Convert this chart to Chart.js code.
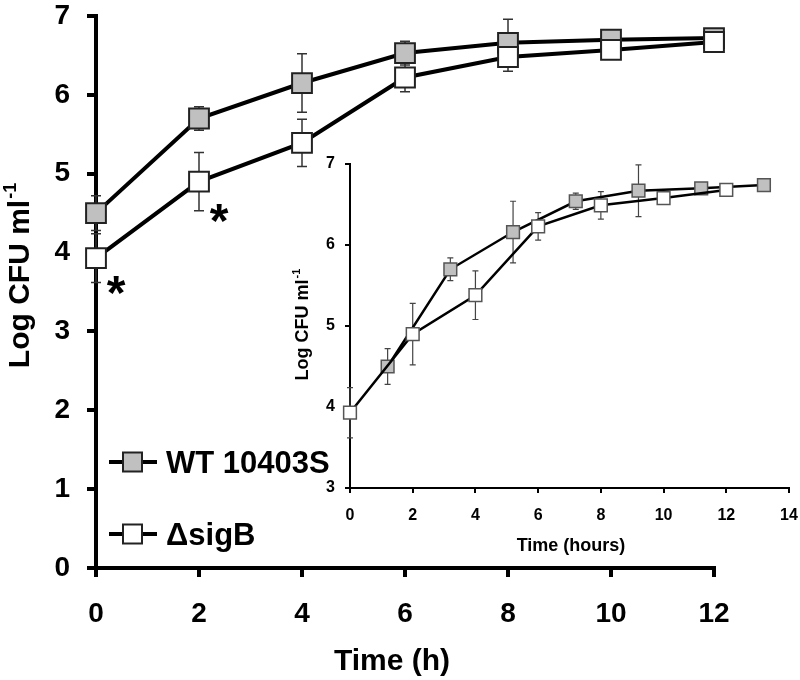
<!DOCTYPE html>
<html>
<head>
<meta charset="utf-8">
<script src="https://cdn.jsdelivr.net/npm/chart.js@4.4.1/dist/chart.umd.min.js"></script>
<style>
  html, body { margin: 0; padding: 0; background: #fff; }
  #wrap { position: relative; width: 800px; height: 680px; }
  #wrap canvas { position: absolute; left: 0; top: 0; }
</style>
</head>
<body>
<div id="wrap">
  <canvas id="mainChart" width="800" height="680"></canvas>
  <canvas id="insetChart" width="800" height="680"></canvas>
</div>
<script>
// --- Data: main panel (Log CFU/ml vs time, h) ---
const MAIN_TIMES   = [0, 2, 4, 6, 8, 10, 12];
const MAIN_WT      = [4.50, 5.70, 6.15, 6.53, 6.66, 6.70, 6.72];
const MAIN_WT_ERR  = [0.22, 0.15, 0.37, 0.15, 0.30, 0.05, 0.04];
const MAIN_SIGB    = [3.93, 4.90, 5.39, 6.22, 6.48, 6.57, 6.67];
const MAIN_SIGB_ERR = [0.31, 0.37, 0.30, 0.18, 0.18, 0.05, 0.04];
const SIG_TIMES    = [0, 2];   // points marked with *

// --- Data: inset panel ---
const INSET_WT_TIMES   = [1.2, 3.2, 5.2, 7.2, 9.2, 11.2, 13.2];
const INSET_WT         = [4.50, 5.70, 6.16, 6.54, 6.67, 6.70, 6.74];
const INSET_WT_ERR     = [0.22, 0.14, 0.38, 0.10, 0.32, 0.03, 0.03];
const INSET_SIGB_TIMES = [0, 2, 4, 6, 8, 10, 12];
const INSET_SIGB       = [3.93, 4.90, 5.38, 6.23, 6.49, 6.58, 6.68];
const INSET_SIGB_ERR   = [0.31, 0.38, 0.30, 0.17, 0.17, 0.03, 0.03];

const LABELS = ['WT 10403S', '\u0394sigB'];

const FONT = '"Liberation Sans", Arial, Helvetica, sans-serif';
const GRAY = '#c0c0c0';
Chart.defaults.font.family = FONT;
Chart.defaults.color = '#000';
Chart.defaults.animation = false;

const pts = (xs, ys) => xs.map((x, i) => ({ x, y: ys[i] }));

// fixed axis box, no extra label overhang padding
const fixBox = (w, h) => s => {
  if (w != null) s.width = w;
  if (h != null) s.height = h;
  s.paddingTop = s.paddingBottom = s.paddingLeft = s.paddingRight = 0;
};

// --- Plugins ---
const errorBars = {
  id: 'errorBars',
  beforeDatasetsDraw(chart, args, opts) {
    const { ctx, scales: { x, y } } = chart;
    ctx.save();
    ctx.strokeStyle = opts.color;
    ctx.lineWidth = opts.width;
    chart.data.datasets.forEach(ds => {
      if (!ds.errors) return;
      ds.data.forEach((p, i) => {
        const e = ds.errors[i];
        const px = x.getPixelForValue(p.x);
        const top = y.getPixelForValue(p.y + e), bot = y.getPixelForValue(p.y - e);
        ctx.beginPath();
        ctx.moveTo(px, top); ctx.lineTo(px, bot);
        ctx.moveTo(px - opts.cap, top); ctx.lineTo(px + opts.cap, top);
        ctx.moveTo(px - opts.cap, bot); ctx.lineTo(px + opts.cap, bot);
        ctx.stroke();
      });
    });
    ctx.restore();
  }
};

function drawText(ctx, t) {
  ctx.save();
  ctx.translate(t.x, t.y);
  if (t.rotate) ctx.rotate(t.rotate);
  ctx.fillStyle = '#000';
  ctx.textBaseline = 'alphabetic';
  ctx.textAlign = 'left';
  ctx.font = `bold ${t.size}px ${FONT}`;
  const w1 = ctx.measureText(t.text).width;
  let w2 = 0;
  const supSize = Math.round(t.size * 0.6);
  if (t.sup) {
    ctx.font = `bold ${supSize}px ${FONT}`;
    w2 = ctx.measureText(t.sup).width;
  }
  const x0 = -(w1 + w2) / 2;
  ctx.font = `bold ${t.size}px ${FONT}`;
  ctx.fillText(t.text, x0, 0);
  if (t.sup) {
    ctx.font = `bold ${supSize}px ${FONT}`;
    ctx.fillText(t.sup, x0 + w1 + 1, -t.size * 0.42);
  }
  ctx.restore();
}

const titles = {
  id: 'titles',
  afterDraw(chart, args, opts) {
    (opts.items || []).forEach(t => drawText(chart.ctx, t));
  }
};

const legendBox = {
  id: 'legendBox',
  afterDraw(chart, args, opts) {
    if (!opts.show) return;
    const ctx = chart.ctx;
    const items = chart.data.datasets.slice().sort((a, b) => b.order - a.order);
    ctx.save();
    items.forEach((ds, i) => {
      const cy = opts.top + i * opts.gap;
      ctx.strokeStyle = '#000';
      ctx.lineWidth = 4;
      ctx.beginPath();
      ctx.moveTo(opts.left, cy); ctx.lineTo(opts.left + 48, cy);
      ctx.stroke();
      ctx.fillStyle = ds.pointBackgroundColor;
      ctx.lineWidth = 2;
      ctx.strokeStyle = '#222';
      ctx.fillRect(opts.left + 14, cy - 9.5, 19, 19);
      ctx.strokeRect(opts.left + 14, cy - 9.5, 19, 19);
      ctx.fillStyle = '#000';
      ctx.font = `bold 31px ${FONT}`;
      ctx.textBaseline = 'alphabetic';
      ctx.fillText(ds.label, opts.left + 57, cy + 11);
    });
    ctx.restore();
  }
};

const stars = {
  id: 'stars',
  afterDatasetsDraw(chart, args, opts) {
    if (!opts.show) return;
    const { ctx, scales: { x, y } } = chart;
    ctx.save();
    ctx.fillStyle = '#000';
    ctx.font = `bold 48px ${FONT}`;
    ctx.textAlign = 'center';
    SIG_TIMES.forEach(t => {
      const i = MAIN_TIMES.indexOf(t);
      const cx = x.getPixelForValue(t) + 20;
      const cy = y.getPixelForValue(MAIN_SIGB[i] - MAIN_SIGB_ERR[i]);
      ctx.fillText('*', cx, cy + 26);
    });
    ctx.restore();
  }
};

// --- Main chart ---
new Chart(document.getElementById('mainChart'), {
  type: 'line',
  data: {
    datasets: [
      { label: LABELS[0], data: pts(MAIN_TIMES, MAIN_WT), errors: MAIN_WT_ERR, order: 1,
        borderColor: '#000', borderWidth: 4, pointStyle: 'rect', pointRadius: 14,
        pointBackgroundColor: GRAY, pointBorderColor: '#222', pointBorderWidth: 2, clip: false },
      { label: LABELS[1], data: pts(MAIN_TIMES, MAIN_SIGB), errors: MAIN_SIGB_ERR, order: 0,
        borderColor: '#000', borderWidth: 4, pointStyle: 'rect', pointRadius: 14,
        pointBackgroundColor: '#fff', pointBorderColor: '#222', pointBorderWidth: 2, clip: false }
    ]
  },
  options: {
    responsive: false,
    layout: { padding: { left: 0, top: 9, right: 86, bottom: 0 } },
    plugins: {
      legend: { display: false },
      tooltip: { enabled: false },
      errorBars: { color: '#333', width: 1.5, cap: 5 },
      legendBox: { show: true, left: 109, top: 462, gap: 72 },
      stars: { show: true },
      titles: { items: [
        { text: 'Log CFU ml', sup: '-1', x: 29, y: 276, size: 30, rotate: -Math.PI / 2 },
        { text: 'Time (h)', x: 392, y: 670, size: 30 }
      ] }
    },
    scales: {
      x: {
        type: 'linear', min: 0, max: 12,
        afterFit: fixBox(null, 112),
        ticks: { stepSize: 2, maxRotation: 0, padding: 20, font: { size: 28, weight: 'bold' } },
        grid: { drawOnChartArea: false, tickLength: 9, lineWidth: 4, tickColor: '#000' },
        border: { color: '#000', width: 4 }
      },
      y: {
        min: 0, max: 7,
        afterFit: fixBox(96, null),
        ticks: { stepSize: 1, padding: 17, font: { size: 28, weight: 'bold' } },
        grid: { drawOnChartArea: false, tickLength: 9, lineWidth: 4, tickColor: '#000' },
        border: { color: '#000', width: 4 }
      }
    }
  },
  plugins: [errorBars, legendBox, stars, titles]
});

// --- Inset chart ---
new Chart(document.getElementById('insetChart'), {
  type: 'line',
  data: {
    datasets: [
      { label: LABELS[0], data: pts(INSET_WT_TIMES, INSET_WT), errors: INSET_WT_ERR, order: 1,
        borderColor: '#000', borderWidth: 2.5, pointStyle: 'rect', pointRadius: 9,
        pointBackgroundColor: GRAY, pointBorderColor: '#555', pointBorderWidth: 1.5, clip: false },
      { label: LABELS[1], data: pts(INSET_SIGB_TIMES, INSET_SIGB), errors: INSET_SIGB_ERR, order: 0,
        borderColor: '#000', borderWidth: 2.5, pointStyle: 'rect', pointRadius: 9,
        pointBackgroundColor: '#fff', pointBorderColor: '#555', pointBorderWidth: 1.5, clip: false }
    ]
  },
  options: {
    responsive: false,
    layout: { padding: { left: 280, top: 164, right: 11, bottom: 120 } },
    plugins: {
      legend: { display: false },
      tooltip: { enabled: false },
      errorBars: { color: '#444', width: 1.2, cap: 3 },
      titles: { items: [
        { text: 'Log CFU ml', sup: '-1', x: 308, y: 325, size: 18, rotate: -Math.PI / 2 },
        { text: 'Time (hours)', x: 571, y: 551, size: 18 }
      ] }
    },
    scales: {
      x: {
        type: 'linear', min: 0, max: 14,
        afterFit: fixBox(null, 72),
        ticks: { stepSize: 2, maxRotation: 0, padding: 13, font: { size: 16, weight: 'bold' } },
        grid: { drawOnChartArea: false, tickLength: 5, lineWidth: 2, tickColor: '#000' },
        border: { color: '#000', width: 2 }
      },
      y: {
        min: 3, max: 7,
        afterFit: fixBox(70, null),
        ticks: { stepSize: 1, padding: 10, font: { size: 16, weight: 'bold' } },
        grid: { drawOnChartArea: false, tickLength: 5, lineWidth: 2, tickColor: '#000' },
        border: { color: '#000', width: 2 }
      }
    }
  },
  plugins: [errorBars, titles]
});
</script>
</body>
</html>
